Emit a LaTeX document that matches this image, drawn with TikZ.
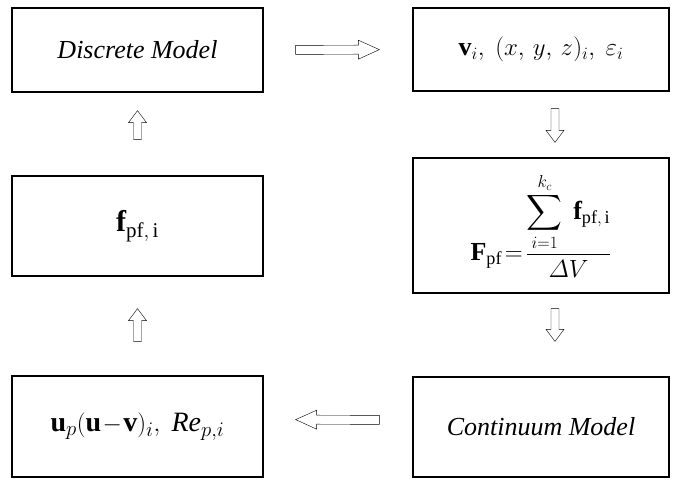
\documentclass[tikz,border=0pt]{standalone}
\usepackage{amsmath}
\usepackage{fontspec}
\setmainfont{Liberation Serif}
\usetikzlibrary{calc}
\tikzset{
  blok/.style={draw, line width=1.3pt, inner sep=0pt, font=\fontsize{26}{30}\selectfont},
  % hohler Pfeil: Abstand Anfang, Abstand Ende, halbe Schaftbreite, halbe Spitzenbreite, Spitzenlaenge
  holarr/.style n args={5}{line width=0.9pt, line join=miter, to path={
    ($(\tikztostart)!#1!(\tikztotarget)$) coordinate (hS)
    ($(\tikztotarget)!#2!(\tikztostart)$) coordinate (hT)
    ($(hT)!#5!(hS)$) coordinate (hH)
    ($(hS)!#3!90:(hT)$) -- ($(hH)!#3!-90:(hS)$) -- ($(hH)!#4!-90:(hS)$) -- (hT)
    -- ($(hH)!#4!90:(hS)$) -- ($(hH)!#3!90:(hS)$) -- ($(hS)!#3!-90:(hT)$) -- cycle}},
  hol/.style 2 args={holarr={#1}{#2}{4pt}{9pt}{12pt}},
  holwide/.style 2 args={holarr={#1}{#2}{4.5pt}{9.5pt}{21pt}}
}
\begin{document}
\begin{tikzpicture}[x=1pt, y=-1pt]
  \useasboundingbox (0,0) rectangle (676,482);

  % Kasten
  \node[blok, minimum width=251pt, minimum height=84pt] (dm) at (137.5,50) {\itshape Discrete Model};
  \node[blok, minimum width=256pt, minimum height=83pt] (vx) at (541,49.5) {$\mathbf{v}_i,\ (x,\,y,\,z)_i,\ \varepsilon_i$};
  \node[blok, minimum width=256pt, minimum height=135pt] (Fp) at (541,225.5)
    {$\mathbf{F}_{\mathrm{pf}}\!=\!\dfrac{\displaystyle\sum_{i=1}^{k_c}\ \mathbf{f}_{\mathrm{pf,\,i}}}{\varDelta V}$};
  \node[blok, minimum width=251pt, minimum height=100pt, font=\fontsize{30}{34}\selectfont] (fl) at (137.5,226) {$\mathbf{f}_{\mathrm{pf,\,i}}$};
  \node[blok, minimum width=251pt, minimum height=101pt, font=\fontsize{28}{32}\selectfont] (ur) at (137.5,426.5) {$\mathbf{u}_p(\mathbf{u}\!-\!\mathbf{v})_i,\ \mathit{Re}_{p,i}$};
  \node[blok, minimum width=256pt, minimum height=100pt] (cm) at (541,427) {\itshape Continuum Model};

  % Pfeilenden
  \coordinate (r1) at ([xshift=14pt]vx.south);
  \coordinate (r2) at ([xshift=14pt]Fp.north);
  \coordinate (r3) at ([xshift=14pt]Fp.south);
  \coordinate (r4) at ([xshift=14pt]cm.north);

  % Pfeile
  \draw (dm.east) to[holwide={32pt}{33pt}] (vx.west);
  \draw (r1) to[hol={17pt}{15pt}] (r2);
  \draw (r3) to[hol={15pt}{35pt}] (r4);
  \draw ([yshift=7pt]cm.west) to[holwide={33pt}{32pt}] ([yshift=7pt]ur.east);
  \draw (ur.north) to[hol={34pt}{32pt}] (fl.south);
  \draw (fl.north) to[hol={36pt}{18pt}] (dm.south);
\end{tikzpicture}
\end{document}
